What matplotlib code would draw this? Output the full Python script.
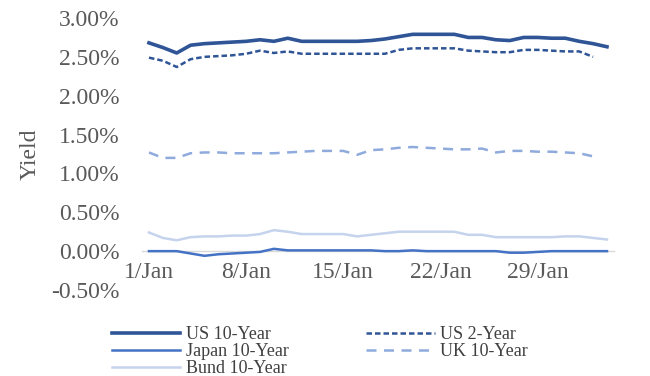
import numpy as np
import matplotlib
matplotlib.use('Agg')
import matplotlib.pyplot as plt
from matplotlib.ticker import FuncFormatter

plt.rcParams['font.family'] = ['Liberation Serif', 'DejaVu Serif']

# 1/Jan .. 3/Feb, one point per day
days = np.arange(34)
tick_pos = [0, 7, 14, 21, 28]
tick_labels = ['1/Jan', '8/Jan', '15/Jan', '22/Jan', '29/Jan']

us10 = [2.68, 2.62, 2.55, 2.65, 2.67, 2.68, 2.69, 2.70, 2.72, 2.70, 2.74, 2.70,
        2.70, 2.70, 2.70, 2.70, 2.71, 2.73, 2.76, 2.79, 2.79, 2.79, 2.79, 2.75,
        2.75, 2.72, 2.71, 2.75, 2.75, 2.74, 2.74, 2.70, 2.67, 2.63]
us2 = [2.49, 2.45, 2.37, 2.47, 2.50, 2.51, 2.52, 2.54, 2.58, 2.55, 2.57, 2.54,
       2.54, 2.54, 2.54, 2.54, 2.54, 2.54, 2.59, 2.61, 2.61, 2.61, 2.61, 2.58,
       2.57, 2.56, 2.56, 2.59, 2.59, 2.58, 2.57, 2.57, 2.50, np.nan]
japan = [0.00, 0.00, 0.00, -0.03, -0.06, -0.04, -0.03, -0.02, -0.01, 0.03, 0.01, 0.01,
         0.01, 0.01, 0.01, 0.01, 0.01, 0.00, 0.00, 0.01, 0.00, 0.00, 0.00, 0.00,
         0.00, 0.00, -0.02, -0.02, -0.01, 0.00, 0.00, 0.00, 0.00, 0.00]
uk = [1.27, 1.20, 1.20, 1.26, 1.27, 1.27, 1.26, 1.26, 1.26, 1.26, 1.27, 1.28,
      1.29, 1.29, 1.29, 1.24, 1.30, 1.31, 1.33, 1.34, 1.33, 1.32, 1.31, 1.31,
      1.32, 1.27, 1.29, 1.29, 1.28, 1.28, 1.27, 1.26, 1.22, np.nan]
bund = [0.24, 0.17, 0.14, 0.18, 0.19, 0.19, 0.20, 0.20, 0.22, 0.27, 0.25, 0.22,
        0.22, 0.22, 0.22, 0.19, 0.21, 0.23, 0.25, 0.25, 0.25, 0.25, 0.25, 0.21,
        0.21, 0.18, 0.18, 0.18, 0.18, 0.18, 0.19, 0.19, 0.17, 0.15]

fig = plt.figure(figsize=(6.5, 3.76), dpi=100)
ax = fig.add_axes([0.2185, 0.2287, 0.726, 0.7234])

l1, = ax.plot(days, us10, color='#2F5597', lw=2.6, label='US 10-Year')
l2, = ax.plot(days, us2, color='#2F5597', lw=1.8, ls=(0, (2.2, 1.2)), label='US 2-Year')
l3, = ax.plot(days, japan, color='#4472C4', lw=1.8, label='Japan 10-Year')
l4, = ax.plot(days, uk, color='#8FAADC', lw=1.8, ls=(0, (4, 3)), label='UK 10-Year')
l5, = ax.plot(days, bund, color='#C5D3EC', lw=1.8, label='Bund 10-Year')

ax.set_xlim(-0.5, 33.5)
ax.set_ylim(-0.5, 3.0)
ax.set_yticks(np.arange(-0.5, 3.01, 0.5))
ax.yaxis.set_major_formatter(FuncFormatter(lambda v, p: '%.2f%%' % v))
ax.set_xticks(tick_pos)
ax.set_xticklabels(tick_labels)

for s in ['top', 'right', 'left']:
    ax.spines[s].set_visible(False)
ax.spines['bottom'].set_position(('data', 0))
ax.spines['bottom'].set_color('#D9D9D9')
ax.spines['bottom'].set_linewidth(1.0)
ax.spines['bottom'].set_zorder(0)

ax.tick_params(axis='both', length=0, labelsize=17, labelcolor='#595959')
ax.tick_params(axis='y', pad=16)
ax.tick_params(axis='x', pad=8)
ax.set_ylabel('Yield', fontsize=17, color='#595959', labelpad=8)

leg = fig.legend(handles=[l1, l3, l5, l2, l4], ncol=2, frameon=False, fontsize=13,
                 loc='upper left', bbox_to_anchor=(0.172, 0.133), borderaxespad=0,
                 borderpad=0, handlelength=3.8, handletextpad=0.3, labelspacing=0.0,
                 columnspacing=4.3)
for t in leg.get_texts():
    t.set_color('#404040')

fig.savefig('out.png', dpi=100)
